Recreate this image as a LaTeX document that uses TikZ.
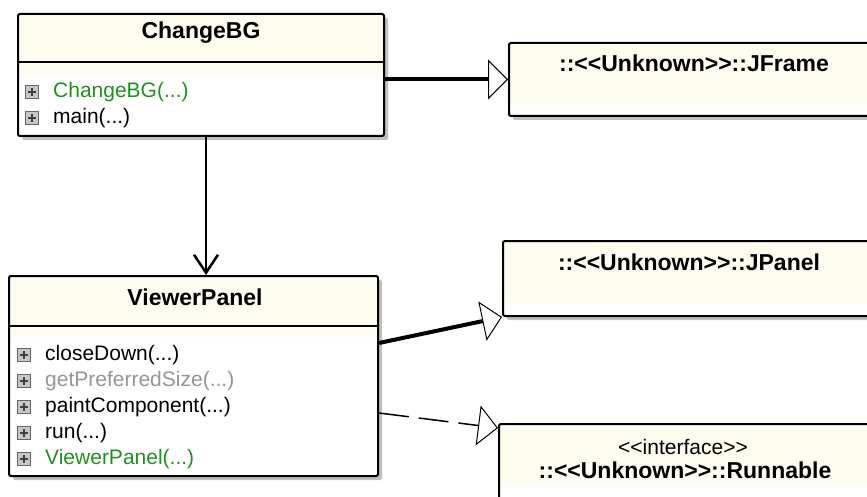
\documentclass[tikz,border=0pt]{standalone}
\usepackage{fontspec}
\setmainfont{Liberation Sans}
\usetikzlibrary{arrows.meta, shadows}
\definecolor{cream}{RGB}{255,252,240}
\definecolor{ctorgreen}{RGB}{30,145,30}
\definecolor{inhgray}{RGB}{150,150,150}
\newcommand{\titlesize}{\fontsize{23}{27}\selectfont\bfseries}
\newcommand{\membersize}{\fontsize{21}{25}\selectfont}
\newcommand{\dlt}{<\kern0pt<}
\newcommand{\dgt}{>\kern0pt>}
\tikzset{
  classbox/.style={draw, line width=2pt, fill=white, anchor=north west, inner sep=0pt,
    rounded corners=2pt,
    general shadow={fill=black!25, shadow xshift=4pt, shadow yshift=-4pt},
    path picture={\fill[cream] (path picture bounding box.north west) rectangle
      ([yshift=-#1]path picture bounding box.north east);}},
  classname/.style={font=\titlesize, inner sep=0pt},
  member/.style={font=\membersize, anchor=west, inner sep=0pt},
  expander/.style={draw=black!60, fill=black!22, line width=1pt, minimum size=13pt,
    inner sep=0pt, anchor=west,
    path picture={\draw[black!75, line width=2pt]
      ([xshift=-4pt]path picture bounding box.center) -- ([xshift=4pt]path picture bounding box.center)
      ([yshift=-4pt]path picture bounding box.center) -- ([yshift=4pt]path picture bounding box.center);}},
  generalize/.style={-{Triangle[open, length=20pt, width=40pt, line width=1pt, fill=white]}},
  assoc/.style={line width=2.5pt, -{Straight Barb[length=18pt, width=24pt]}},
}

\begin{document}
\begin{tikzpicture}[x=1pt, y=-1pt]
    \useasboundingbox (0,0) rectangle (867,497);
    \clip (0,0) rectangle (867,497);
    % class boxes
    \node[classbox=60pt, minimum width=366pt, minimum height=122pt] (changebg) at (17,13) {};
    \node[classbox=61pt, minimum width=369pt, minimum height=200pt] (viewer) at (8,275) {};
    \node[classbox=60pt, minimum width=372pt, minimum height=73pt] (jframe) at (508,42) {};
    \node[classbox=62pt, minimum width=378pt, minimum height=75pt] (jpanel) at (502,240) {};
    \node[classbox=62pt, minimum width=382pt, minimum height=90pt] (runnable) at (498,423) {};
    % separators
    \draw[line width=1.5pt] (changebg.west |- 0,62) -- (changebg.east |- 0,62);
    \draw[line width=1.5pt] (viewer.west |- 0,326) -- (viewer.east |- 0,326);
    % names
    \node[classname] (changebg-name) at (201,33) {ChangeBG};
    \node[classname] (viewer-name) at (195,297) {ViewerPanel};
    \node[classname] (jframe-name) at (694,63) {::\dlt Unknown\dgt::JFrame};
    \node[classname] (jpanel-name) at (689,262) {::\dlt Unknown\dgt::JPanel};
    \node[member, anchor=center] (runnable-stereo) at (683,447) {\dlt interface\dgt};
    \node[classname] (runnable-name) at (685,470) {::\dlt Unknown\dgt::Runnable};
    % members of ChangeBG
    \node[expander] (cb1) at (25,92) {};
    \node[member, text=ctorgreen] (cb1-text) at (53,92) {ChangeBG(...)};
    \node[expander] (cb2) at (25,118) {};
    \node[member] (cb2-text) at (53,118) {main(...)};
    % members of ViewerPanel
    \node[expander] (vp1) at (17,355) {};
    \node[member] (vp1-text) at (45,355) {closeDown(...)};
    \node[expander] (vp2) at (17,381) {};
    \node[member, text=inhgray] (vp2-text) at (45,381) {getPreferredSize(...)};
    \node[expander] (vp3) at (17,407) {};
    \node[member] (vp3-text) at (45,407) {paintComponent(...)};
    \node[expander] (vp4) at (17,433) {};
    \node[member] (vp4-text) at (45,433) {run(...)};
    \node[expander] (vp5) at (17,459) {};
    \node[member, text=ctorgreen] (vp5-text) at (45,459) {ViewerPanel(...)};
    % arrows
    \draw[generalize, line width=4pt] (changebg.east |- jframe.west) -- (jframe.west);
    \draw[assoc] ([xshift=5pt]changebg.south) -- ([xshift=5pt]changebg.south |- viewer.north);
    \draw[generalize, line width=4pt] ([yshift=33pt]viewer.east) -- (jpanel.south west);
    \draw[generalize, line width=1.5pt, dash pattern=on 30pt off 10pt]
      ([yshift=-37pt]viewer.east) -- ([yshift=-5pt]runnable.north west);
\end{tikzpicture}
\end{document}
